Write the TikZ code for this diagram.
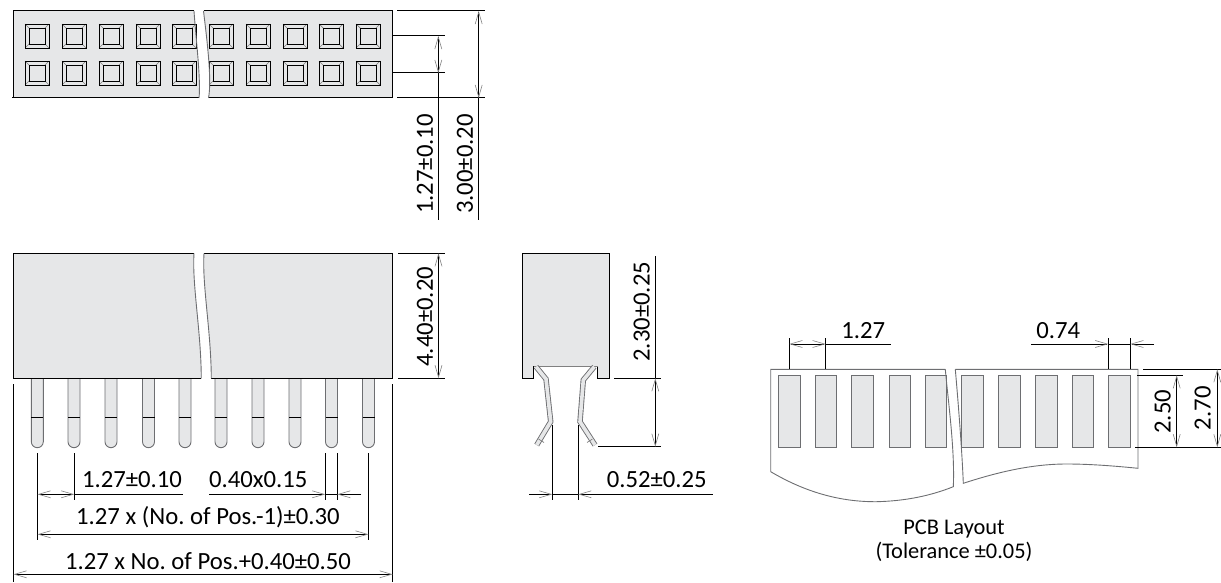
\documentclass[tikz,border=0pt]{standalone}
\usepackage{fontspec}
\setmainfont{Carlito}
\usetikzlibrary{arrows.meta}
\frenchspacing

\definecolor{bodygray}{HTML}{E6E7E8}
\definecolor{cutgray}{HTML}{6D6E71}

\begin{document}
\begin{tikzpicture}[
      x = 1pt, y = -1pt,
      every path/.style = {line width = 1pt},
      body/.style = {fill = bodygray, draw = none},
      cutline/.style = {draw = cutgray, line width = .9pt},
      bevel/.style = {draw = gray, line width = .7pt},
      dimboth/.style = {{Straight Barb[length=12pt,width=7pt,line width=.6pt,color=gray]}-{Straight Barb[length=12pt,width=7pt,line width=.6pt,color=gray]}},
      dimend/.style = {-{Straight Barb[length=12pt,width=7pt,line width=.6pt,color=gray]}},
      dimlabel/.style = {inner sep = 0pt, font = \fontsize{24.7}{28}\selectfont},
      notelabel/.style = {inner sep = 0pt, font = \fontsize{22.4}{26}\selectfont},
      lead/.style = {draw = cutgray, line width = .9pt, double = bodygray, double distance = 3.6pt, miter limit = 10}
      ]
    \useasboundingbox (0,0) rectangle (1221,583);

    % top view
    \path[body] (13,11)--(194,11) .. controls (196,40) and (201,80) .. (199,98)--(13,98)--cycle;
    \path[body] (203.5,11)--(392.5,11)--(392.5,98)--(208.5,98) .. controls (212,80) and (207,40) .. (203.5,11);
    \foreach \x in {37,74,111,148,184,221,258,295,331,368}
      \foreach \y in {36,73} {
        \draw[bevel] (\x-12,\y-12)--(\x+12,\y+12);
        \draw[bevel] (\x-12,\y+12)--(\x+12,\y-12);
        \draw[fill = bodygray, line width = .9pt] (\x-8,\y-8) rectangle (\x+8,\y+8);
        \draw[line width = .9pt] (\x-12,\y-12) rectangle (\x+12,\y+12);
      }
    \draw (194,11)--(13.3,11)--(13.3,98);
    \draw (12,98)--(199,98);
    \draw (203.5,11)--(392.5,11)--(392.5,98)--(208.5,98);
    \draw[cutline] (194,11) .. controls (196,40) and (201,80) .. (199,98);
    \draw[cutline] (203.5,11) .. controls (207,40) and (212,80) .. (208.5,98);

    \draw (397,11)--(485,11);
    \draw (397,98)--(485,98);
    \draw (392.5,36)--(445,36);
    \draw (392.5,73)--(445,73);
    \draw[dimboth] (438.3,36)--(438.3,73);
    \draw (438.3,73)--(438.3,220);
    \draw[dimboth] (478.7,11)--(478.7,98);
    \draw (478.7,98)--(478.7,220);
    \node[dimlabel, rotate = 90] (pitchtop) at (425,164) {1.27±0.10};
    \node[dimlabel, rotate = 90] (widthtop) at (465,164) {3.00±0.20};

    % front view
    \foreach \x in {37.3,74,111,148.5,185,221,258,295,331.5,368.5} {
      \draw[cutline, fill = bodygray] (\x-6,378)--(\x-6,441.7) arc[start angle = 180, end angle = 0, radius = 6]--(\x+6,378);
      \draw (\x-6,417.3)--(\x+6,417.3);
    }
    \path[body] (13.3,253.3)--(194,253.3) .. controls (192,285) and (201,330) .. (201.3,378.3)--(13.3,378.3)--cycle;
    \path[body] (204,253.3)--(392.5,253.3)--(392.5,378.3)--(211.3,378.3) .. controls (211,330) and (202,285) .. (204,253.3);
    \draw (194,253.3)--(13.3,253.3)--(13.3,378.3)--(201.3,378.3);
    \draw (204,253.3)--(392.5,253.3)--(392.5,378.3)--(211.3,378.3);
    \draw[cutline] (194,253.3) .. controls (192,285) and (201,330) .. (201.3,378.3);
    \draw[cutline] (204,253.3) .. controls (202,285) and (211,330) .. (211.3,378.3);

    \draw (398,253.3)--(445,253.3);
    \draw (398,378.3)--(445,378.3);
    \draw[dimboth] (438.5,253.3)--(438.5,378.3);
    \node[dimlabel, rotate = 90] (heightfront) at (425,316.7) {4.40±0.20};

    \draw (37.5,453)--(37.5,540);
    \draw (368.5,453)--(368.5,540);
    \draw (74.3,453)--(74.3,500);
    \draw (325.3,453)--(325.3,500);
    \draw (337.3,453)--(337.3,500);
    \draw (13.5,384)--(13.5,581.7);
    \draw (392.7,384)--(392.7,581.7);
    \draw[dimboth] (37.5,494.3)--(74.3,494.3);
    \draw (74.3,494.3)--(183,494.3);
    \draw[dimend] (209,494.3)--(325.3,494.3);
    \draw (325.3,494.3)--(337.3,494.3);
    \draw[dimend] (361,494.3)--(337.3,494.3);
    \draw[dimboth] (37.5,534.3)--(368.5,534.3);
    \draw[dimboth] (13.5,574.3)--(392.7,574.3);
    \node[dimlabel] (pitchfront) at (132,480) {1.27±0.10};
    \node[dimlabel] (pinsize) at (258.3,480) {0.40x0.15};
    \node[dimlabel] (pitchtotal) at (208,516.7) {1.27 x (No. of Pos.-1)±0.30};
    \node[dimlabel] (lengthtotal) at (208,561) {1.27 x No. of Pos.+0.40±0.50};

    % end view
    \path[body] (522.3,253.3)--(609.7,253.3)--(609.7,378.3)--(597.7,378.3)--(597.7,366.3)--(533.5,366.3)--(533.5,378.3)--(522.3,378.3)--cycle;
    \draw (533.5,366.3)--(533.5,378.3)--(522.3,378.3)--(522.3,253.3)--(609.7,253.3)--(609.7,378.3)--(597.7,378.3)--(597.7,366.3);
    \draw[bevel] (533.5,366.3)--(597.7,366.3);
    \draw[lead] (536,366.7)--(546,379)--(550.7,421.7)--(536.7,445);
    \draw[lead] (594.3,366.7)--(583.3,380)--(580,421.7)--(595,445);
    \draw[bevel] (538.5,439)--(544,442.5);
    \draw[bevel] (592.5,439)--(587,442.5);

    \draw (552.3,425)--(552.3,500);
    \draw (578.3,425)--(578.3,500);
    \draw[dimend] (529,494.3)--(552.3,494.3);
    \draw (552.3,494.3)--(578.3,494.3);
    \draw[dimend] (712.7,494.3)--(578.3,494.3);
    \draw (614,378.3)--(661,378.3);
    \draw (598,446.7)--(661,446.7);
    \draw (655.3,256)--(655.3,378.3);
    \draw[dimboth] (655.3,378.3)--(655.3,446.7);
    \node[dimlabel, rotate = 90] (heightend) at (641.7,311.7) {2.30±0.25};
    \node[dimlabel] (leadgap) at (656.7,480) {0.52±0.25};

    % layout
    \foreach \x in {789.3,826,862.5,899.8,936,972.7,1009.3,1046.2,1082.8,1119.5}
      \draw[cutline, fill = bodygray] (\x-10.8,375.3) rectangle (\x+10.8,447.3);
    \draw[cutline] (945.3,369.3)--(770.7,369.3)--(770.7,471.7) .. controls (805,492) and (840,502) .. (876.7,501.7) .. controls (905,501) and (930,496) .. (953.3,486.7) .. controls (955,450) and (948,400) .. (945.3,369.3);
    \draw[cutline] (955.3,369.3)--(1138,369.3)--(1138,468.3) .. controls (1115,466) and (1090,464) .. (1066.7,464) .. controls (1030,464) and (995,473) .. (963.3,483.3) .. controls (962,450) and (958,400) .. (955.3,369.3);

    \draw (789.3,338.3)--(789.3,369.3);
    \draw (825.7,338.3)--(825.7,369.3);
    \draw (1108.3,338.3)--(1108.3,369.3);
    \draw (1130.3,338.3)--(1130.3,369.3);
    \draw[dimboth] (789.3,344)--(825.7,344);
    \draw (825.7,344)--(890.7,344);
    \draw[dimend] (1031,344)--(1108.3,344);
    \draw (1108.3,344)--(1130.3,344);
    \draw[dimend] (1154,344)--(1130.3,344);
    \draw (1143.3,369.3)--(1221,369.3);
    \draw (1137,375.3)--(1183.3,375.3);
    \draw (1135,447.3)--(1221,447.3);
    \draw[dimboth] (1176.7,375.3)--(1176.7,447.3);
    \draw[dimboth] (1217.3,369.3)--(1217.3,447.3);
    \node[dimlabel] (padpitch) at (863.3,330.7) {1.27};
    \node[dimlabel] (padwidth) at (1058.3,330.7) {0.74};
    \node[dimlabel, rotate = 90] (padlength) at (1162.7,411.7) {2.50};
    \node[dimlabel, rotate = 90] (padspan) at (1202.7,408.3) {2.70};
    \node[notelabel] (layouttitle) at (954,529) {PCB Layout};
    \node[notelabel] (layoutnote) at (954,552) {(Tolerance ±0.05)};
\end{tikzpicture}
\end{document}
